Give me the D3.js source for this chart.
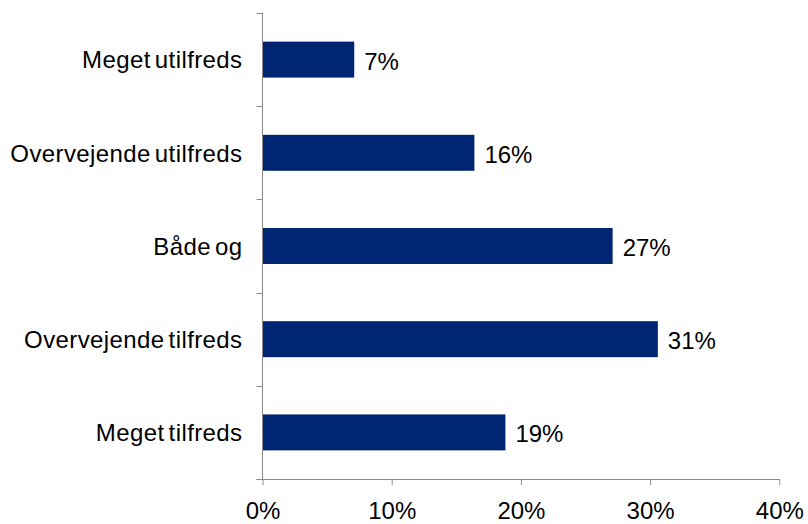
<!DOCTYPE html>
<html>
<head>
<meta charset="utf-8">
<script src="https://cdn.jsdelivr.net/npm/d3@7"></script>
<style>
  html, body { margin: 0; padding: 0; background: #fff; }
  svg { display: block; font-family: "Liberation Sans", Arial, sans-serif; }
</style>
</head>
<body>
<svg id="chart" width="808" height="524"></svg>
<script>
const categories = ["Meget utilfreds", "Overvejende utilfreds", "Både og", "Overvejende tilfreds", "Meget tilfreds"];
const values = [7.1, 16.4, 27.1, 30.6, 18.8];
const tickValues = [0, 10, 20, 30, 40];

(function () {
const svg = d3.select("#chart");
const mLeft = 262.5, mRight = 779.3, mTop = 13, mBottom = 479;
const fontSize = 24;
const axisColor = "#8a8a8a";
const barColor = "#002673";

const x = d3.scaleLinear().domain([0, 40]).range([mLeft, mRight]);
const y = d3.scaleBand().domain(categories).range([mTop, mBottom])
  .paddingInner(0.614).paddingOuter(0.307);

// bars
svg.append("g").selectAll("rect").data(categories).join("rect")
  .attr("x", x(0))
  .attr("y", d => y(d))
  .attr("width", (d, i) => x(values[i]) - x(0))
  .attr("height", y.bandwidth())
  .attr("fill", barColor);

// value labels
svg.append("g").selectAll("text").data(categories).join("text")
  .attr("x", (d, i) => x(values[i]) + 10)
  .attr("y", d => y(d) + y.bandwidth() / 2)
  .attr("dy", "0.42em")
  .attr("font-size", fontSize)
  .attr("fill", "#000")
  .text((d, i) => Math.round(values[i]) + "%");

// x axis
const xAxis = d3.axisBottom(x).tickValues(tickValues).tickSize(6).tickPadding(17)
  .tickFormat(d => d + "%");
const gx = svg.append("g").attr("transform", `translate(0,${mBottom})`).call(xAxis);
gx.select(".domain").attr("stroke", axisColor).attr("d", `M${mLeft - 6},0.5H${mRight}`);
gx.selectAll(".tick line").attr("stroke", axisColor);
gx.selectAll(".tick text").attr("font-size", fontSize).attr("fill", "#000")
  .attr("font-family", "Liberation Sans, Arial, sans-serif");

// y axis line and boundary ticks
const gy = svg.append("g");
gy.append("line").attr("x1", mLeft).attr("x2", mLeft).attr("y1", mTop).attr("y2", mBottom)
  .attr("stroke", axisColor);
const boundaries = d3.range(categories.length + 1).map(i => y.range()[0] + i * y.step());
gy.selectAll("line.tk").data(boundaries).join("line").attr("class", "tk")
  .attr("x1", mLeft - 6).attr("x2", mLeft)
  .attr("y1", d => Math.round(d) + 0.5).attr("y2", d => Math.round(d) + 0.5)
  .attr("stroke", axisColor);

// category labels
svg.append("g").selectAll("text").data(categories).join("text")
  .attr("x", mLeft - 20)
  .attr("y", d => y(d) + y.bandwidth() / 2)
  .attr("dy", "0.37em")
  .attr("text-anchor", "end")
  .attr("font-size", fontSize)
  .attr("letter-spacing", "0.4px")
  .attr("word-spacing", "-3px")
  .attr("fill", "#000")
  .text(d => d);
})();
</script>
</body>
</html>
